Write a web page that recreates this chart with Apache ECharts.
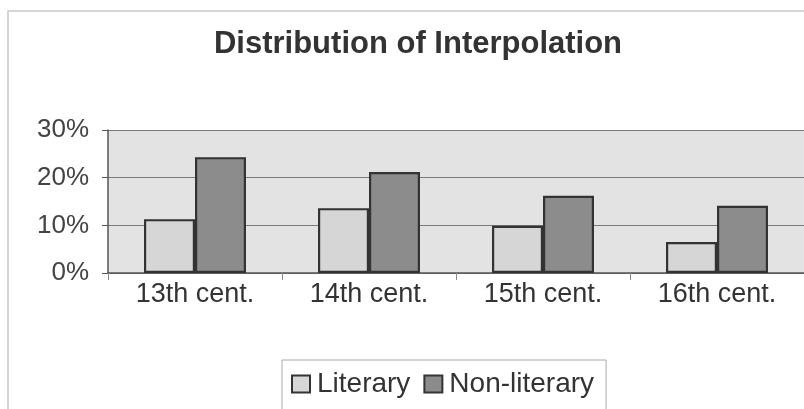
<!DOCTYPE html>
<html><head><meta charset="utf-8">
<script src="https://cdn.jsdelivr.net/npm/echarts@6/dist/echarts.min.js"></script>
<style>html,body{margin:0;padding:0;background:#fff}#c{width:804px;height:409px}</style>
</head><body><div id="c"></div>
<script>
const categories = ['13th cent.', '14th cent.', '15th cent.', '16th cent.'];
const literary = [11.3, 13.6, 9.9, 6.5];
const nonLiterary = [24.3, 21.2, 16.2, 14.1];
const yTicks = [0, 10, 20, 30];

const chart = echarts.init(document.getElementById('c'));
const font = '"Liberation Sans", Arial, sans-serif';
chart.setOption({
  animation: false,
  title: {
    text: 'Distribution of Interpolation',
    left: 413, top: 24, textAlign: 'center',
    textStyle: { fontFamily: font, fontSize: 31, fontWeight: 'bold', color: '#333' }
  },
  graphic: [{
    type: 'rect', shape: { x: 8, y: 11, width: 820, height: 420 },
    style: { fill: 'none', stroke: '#c8c8c8', lineWidth: 1.5 }, silent: true
  }],
  grid: { left: 108, top: 130, bottom: 136, right: -9, show: true, backgroundColor: '#e3e3e3', borderWidth: 0 },
  legend: {
    left: 282, top: 360,
    padding: [10, 12, 30, 9],
    borderColor: '#aaa', borderWidth: 1,
    icon: 'rect',
    itemWidth: 18, itemHeight: 17, itemGap: 13,
    textStyle: { fontFamily: font, fontSize: 28, color: '#333', padding: [0, 0, 0, 2] },
    data: ['Literary', 'Non-literary']
  },
  xAxis: {
    type: 'category', data: categories,
    axisLine: { lineStyle: { color: '#555', width: 1.5 } },
    axisTick: { show: true, length: 7, lineStyle: { color: '#888' } },
    axisLabel: { fontFamily: font, fontSize: 27, color: '#333', margin: 8 }
  },
  yAxis: {
    type: 'value', min: 0, max: 30, interval: 10,
    axisLine: { show: true, lineStyle: { color: '#555', width: 1.5 } },
    axisTick: { show: true, length: 6, lineStyle: { color: '#555' } },
    axisLabel: { fontFamily: font, fontSize: 26, color: '#444', margin: 19,
      formatter: v => yTicks.includes(v) ? v + '%' : '' },
    splitLine: { lineStyle: { color: '#7a7a7a', width: 1.2 } }
  },
  series: [
    { name: 'Literary', type: 'bar', data: literary, barWidth: 51, barGap: '0%',
      itemStyle: { color: '#d6d6d6', borderColor: '#333', borderWidth: 2.2 } },
    { name: 'Non-literary', type: 'bar', data: nonLiterary, barWidth: 51,
      itemStyle: { color: '#8c8c8c', borderColor: '#333', borderWidth: 2.2 } }
  ]
});
</script></body></html>
